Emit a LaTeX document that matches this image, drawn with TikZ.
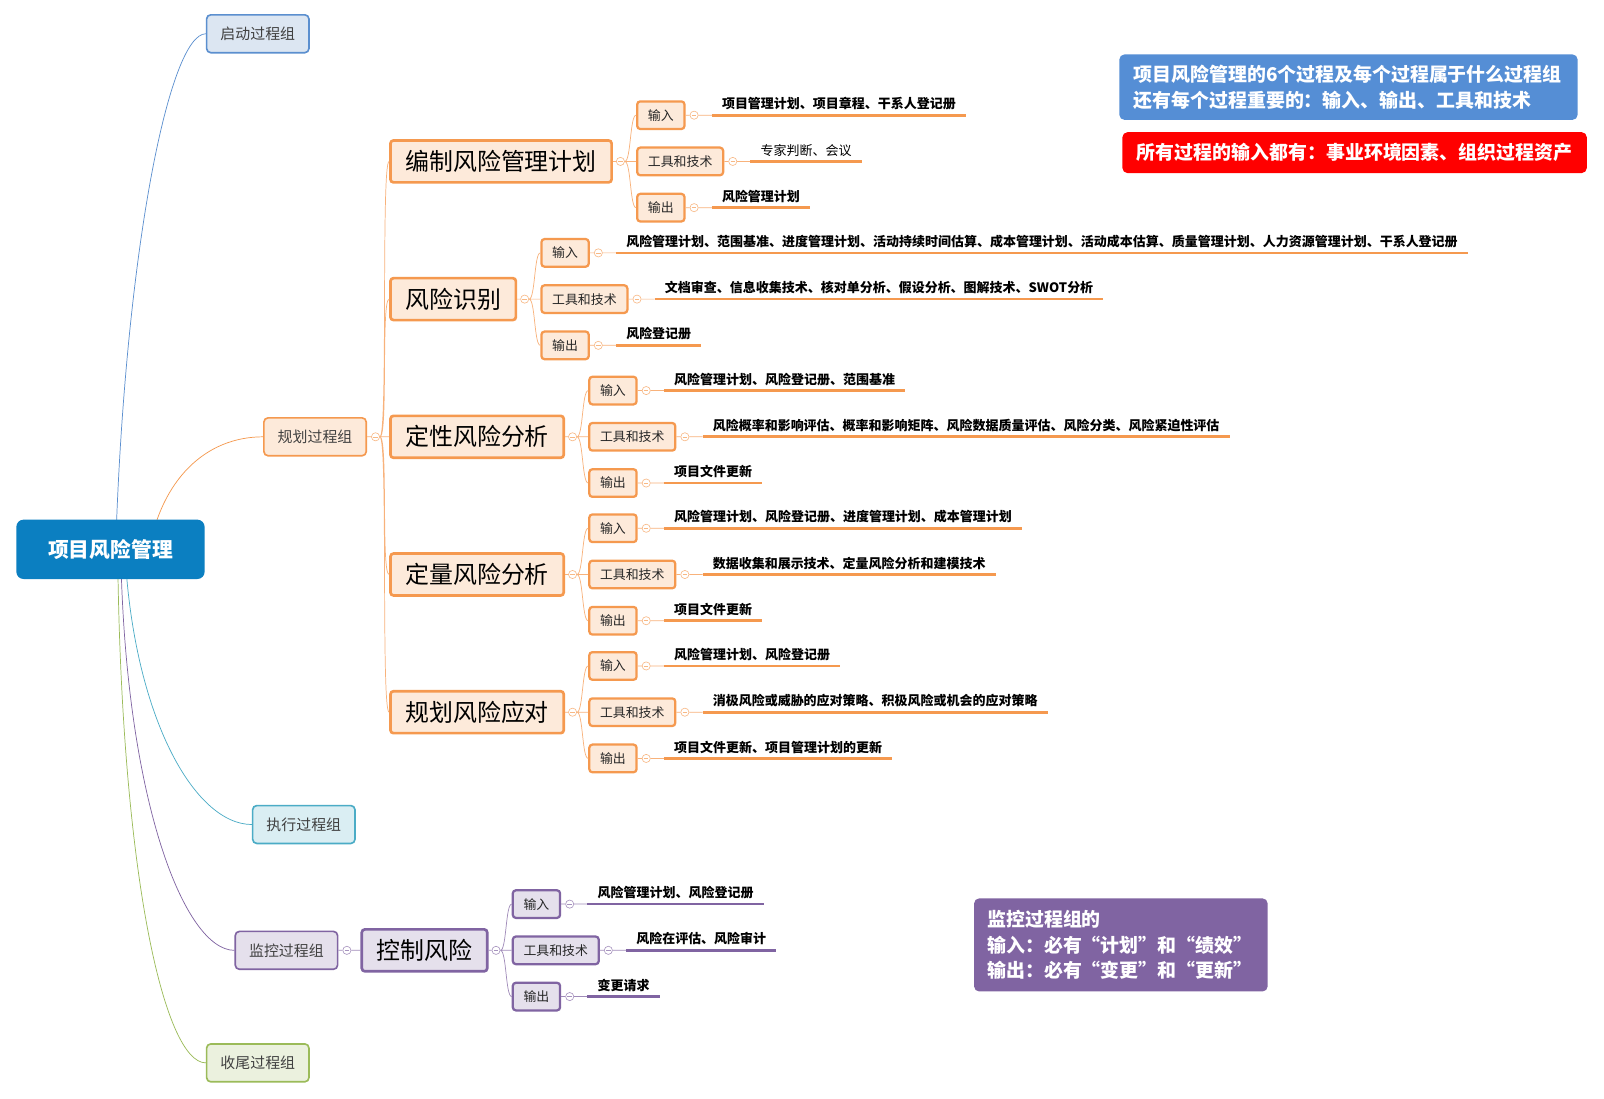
\documentclass[tikz,border=0pt]{standalone}
\usepackage{fontspec}
\setmainfont{Noto Sans CJK SC}
\usepackage{tikz}
\usetikzlibrary{positioning, backgrounds}
\definecolor{rootBlue}{HTML}{0B7FC1}
\definecolor{initLine}{HTML}{5B8FCF}
\definecolor{initFill}{HTML}{DCE6F2}
\definecolor{planLine}{HTML}{F5994F}
\definecolor{planFill}{HTML}{FDEADA}
\definecolor{execLine}{HTML}{4BACC6}
\definecolor{execFill}{HTML}{DAEEF3}
\definecolor{monLine}{HTML}{8064A2}
\definecolor{monFill}{HTML}{E5E0EC}
\definecolor{closeLine}{HTML}{9BBB59}
\definecolor{closeFill}{HTML}{EBF1DE}
\definecolor{noteBlue}{HTML}{558ED5}
\definecolor{noteRed}{HTML}{FF0000}

\begin{document}
\begin{tikzpicture}[
    x=1pt, y=-1pt,
    root/.style={fill=rootBlue, rounded corners=7pt, minimum width=184pt,
                 minimum height=58pt, text=white,
                 font=\bfseries\fontsize{20.3}{24}\selectfont},
    grp/.style={draw, rounded corners=4pt, line width=1.6pt, minimum width=100pt,
                minimum height=37pt, text=black!75,
                font=\fontsize{14.6}{17}\selectfont},
    proc/.style={draw=planLine, fill=planFill, rounded corners=3pt,
                 line width=2.6pt, minimum height=41pt, inner xsep=14.5pt,
                 font=\fontsize{23.4}{27}\selectfont},
    sub/.style={draw=planLine, fill=planFill, rounded corners=3pt,
                line width=2.2pt, minimum height=27pt, inner xsep=10.5pt,
                text=black!85, font=\fontsize{12.6}{15}\selectfont},
    knob/.style={circle, draw=#1!70, fill=white, minimum size=8pt,
                 inner sep=0pt, line width=0.6pt,
                 path picture={\draw[#1!70, line width=0.6pt]
                   ([xshift=1.8pt]path picture bounding box.west) --
                   ([xshift=-1.8pt]path picture bounding box.east);}},
    leaf/.style={inner xsep=10pt, inner ysep=5pt, outer sep=0pt,
                 font=\bfseries\fontsize{12.7}{15}\selectfont},
    twig/.style={draw=#1!75, line width=0.7pt},
    leafline/.style={draw=#1, line width=2.6pt},
    branch/.style={draw=#1, line width=0.7pt},
    note/.style={rounded corners=5pt, text=white, inner xsep=14pt,
                 font=\bfseries\fontsize{18.5}{25}\selectfont},
]
\useasboundingbox (0,0) rectangle (1568,1074);

% Root and process groups
\node[root] (risk) at (108,537) {项目风险管理};
\node[grp, draw=initLine, fill=initFill] (init) at (252,33) {启动过程组};
\node[grp, draw=planLine, fill=planFill] (plan) at (308,427) {规划过程组};
\node[grp, draw=execLine, fill=execFill] (exec) at (297,806) {执行过程组};
\node[grp, draw=monLine, fill=monFill] (mon) at (280,929) {监控过程组};
\node[grp, draw=closeLine, fill=closeFill] (close) at (252,1039) {收尾过程组};

\begin{scope}[on background layer]
\fill[white] (0,0) rectangle (1568,1074);
\draw[branch=initLine] ([xshift=5pt]risk.center) .. controls (122,250) and (165,33) .. (init.west);
\draw[branch=planLine] ([xshift=38pt]risk.center) .. controls (158,470) and (200,427) .. (plan.west);
\draw[branch=execLine] ([xshift=14pt]risk.center) .. controls (130,700) and (190,806) .. (exec.west);
\draw[branch=monLine] ([xshift=10pt]risk.center) .. controls (122,780) and (180,929) .. (mon.west);
\draw[branch=closeLine] ([xshift=7pt]risk.center) .. controls (118,850) and (160,1039) .. (close.west);
\end{scope}

% Planning processes
\node[knob=planLine, right=4pt of plan] (planc) {};
\node[proc, right=9pt of planc] (qual) {定性风险分析};
\node[proc, above=91pt of qual.north west, anchor=south west] (ident) {风险识别};
\node[proc, above=91pt of ident.north west, anchor=south west] (rmp) {编制风险管理计划};
\node[proc, below=91pt of qual.south west, anchor=north west] (quant) {定量风险分析};
\node[proc, below=91pt of quant.south west, anchor=north west] (resp) {规划风险应对};
\draw[twig=planLine] (plan) -- (planc) -- (qual)
    (planc.east) .. controls +(8,0) and +(-8,0) .. (ident.west)
    (planc.east) .. controls +(8,0) and +(-8,0) .. (rmp.west)
    (planc.east) .. controls +(8,0) and +(-8,0) .. (quant.west)
    (planc.east) .. controls +(8,0) and +(-8,0) .. (resp.west);

% Plan risk management
\node[knob=planLine, right=3pt of rmp] (rmpc) {};
\node[sub, right=11pt of rmpc] (rmpt) {工具和技术};
\node[sub, above=16pt of rmpt.north west, anchor=south west] (rmpi) {输入};
\node[sub, below=16pt of rmpt.south west, anchor=north west] (rmpo) {输出};
\node[knob=planLine, right=4pt of rmpi] (rmpic) {};
\node[knob=planLine, right=4pt of rmpt] (rmptc) {};
\node[knob=planLine, right=4pt of rmpo] (rmpoc) {};
\node[leaf, right=13pt of rmpic, anchor=south west] (rmpil) {项目管理计划、项目章程、干系人登记册};
\node[leaf, font=\fontsize{12.7}{15}\selectfont, right=13pt of rmptc, anchor=south west] (rmptl) {专家判断、会议};
\node[leaf, right=13pt of rmpoc, anchor=south west] (rmpol) {风险管理计划};
\draw[twig=planLine] (rmp) -- (rmpc) -- (rmpt) -- (rmptc) -- (rmptl.south west)
    (rmpi) -- (rmpic) -- (rmpil.south west) (rmpo) -- (rmpoc) -- (rmpol.south west)
    (rmpc.east) .. controls +(6,0) and +(-6,0) .. (rmpi.west)
    (rmpc.east) .. controls +(6,0) and +(-6,0) .. (rmpo.west);
\draw[leafline=planLine] (rmpil.south west) -- (rmpil.south east)
    (rmptl.south west) -- (rmptl.south east) (rmpol.south west) -- (rmpol.south east);

% Identify risks
\node[knob=planLine, right=3pt of ident] (identc) {};
\node[sub, right=11pt of identc] (identt) {工具和技术};
\node[sub, above=16pt of identt.north west, anchor=south west] (identi) {输入};
\node[sub, below=16pt of identt.south west, anchor=north west] (idento) {输出};
\node[knob=planLine, right=4pt of identi] (identic) {};
\node[knob=planLine, right=4pt of identt] (identtc) {};
\node[knob=planLine, right=4pt of idento] (identoc) {};
\node[leaf, right=13pt of identic, anchor=south west] (identil) {风险管理计划、范围基准、进度管理计划、活动持续时间估算、成本管理计划、活动成本估算、质量管理计划、人力资源管理计划、干系人登记册};
\node[leaf, right=13pt of identtc, anchor=south west] (identtl) {文档审查、信息收集技术、核对单分析、假设分析、图解技术、SWOT分析};
\node[leaf, right=13pt of identoc, anchor=south west] (identol) {风险登记册};
\draw[twig=planLine] (ident) -- (identc) -- (identt) -- (identtc) -- (identtl.south west)
    (identi) -- (identic) -- (identil.south west) (idento) -- (identoc) -- (identol.south west)
    (identc.east) .. controls +(6,0) and +(-6,0) .. (identi.west)
    (identc.east) .. controls +(6,0) and +(-6,0) .. (idento.west);
\draw[leafline=planLine] (identil.south west) -- (identil.south east)
    (identtl.south west) -- (identtl.south east) (identol.south west) -- (identol.south east);

% Qualitative analysis
\node[knob=planLine, right=3pt of qual] (qualc) {};
\node[sub, right=11pt of qualc] (qualt) {工具和技术};
\node[sub, above=16pt of qualt.north west, anchor=south west] (quali) {输入};
\node[sub, below=16pt of qualt.south west, anchor=north west] (qualo) {输出};
\node[knob=planLine, right=4pt of quali] (qualic) {};
\node[knob=planLine, right=4pt of qualt] (qualtc) {};
\node[knob=planLine, right=4pt of qualo] (qualoc) {};
\node[leaf, right=13pt of qualic, anchor=south west] (qualil) {风险管理计划、风险登记册、范围基准};
\node[leaf, right=13pt of qualtc, anchor=south west] (qualtl) {风险概率和影响评估、概率和影响矩阵、风险数据质量评估、风险分类、风险紧迫性评估};
\node[leaf, right=13pt of qualoc, anchor=south west] (qualol) {项目文件更新};
\draw[twig=planLine] (qual) -- (qualc) -- (qualt) -- (qualtc) -- (qualtl.south west)
    (quali) -- (qualic) -- (qualil.south west) (qualo) -- (qualoc) -- (qualol.south west)
    (qualc.east) .. controls +(6,0) and +(-6,0) .. (quali.west)
    (qualc.east) .. controls +(6,0) and +(-6,0) .. (qualo.west);
\draw[leafline=planLine] (qualil.south west) -- (qualil.south east)
    (qualtl.south west) -- (qualtl.south east) (qualol.south west) -- (qualol.south east);

% Quantitative analysis
\node[knob=planLine, right=3pt of quant] (quantc) {};
\node[sub, right=11pt of quantc] (quantt) {工具和技术};
\node[sub, above=16pt of quantt.north west, anchor=south west] (quanti) {输入};
\node[sub, below=16pt of quantt.south west, anchor=north west] (quanto) {输出};
\node[knob=planLine, right=4pt of quanti] (quantic) {};
\node[knob=planLine, right=4pt of quantt] (quanttc) {};
\node[knob=planLine, right=4pt of quanto] (quantoc) {};
\node[leaf, right=13pt of quantic, anchor=south west] (quantil) {风险管理计划、风险登记册、进度管理计划、成本管理计划};
\node[leaf, right=13pt of quanttc, anchor=south west] (quanttl) {数据收集和展示技术、定量风险分析和建模技术};
\node[leaf, right=13pt of quantoc, anchor=south west] (quantol) {项目文件更新};
\draw[twig=planLine] (quant) -- (quantc) -- (quantt) -- (quanttc) -- (quanttl.south west)
    (quanti) -- (quantic) -- (quantil.south west) (quanto) -- (quantoc) -- (quantol.south west)
    (quantc.east) .. controls +(6,0) and +(-6,0) .. (quanti.west)
    (quantc.east) .. controls +(6,0) and +(-6,0) .. (quanto.west);
\draw[leafline=planLine] (quantil.south west) -- (quantil.south east)
    (quanttl.south west) -- (quanttl.south east) (quantol.south west) -- (quantol.south east);

% Risk responses
\node[knob=planLine, right=3pt of resp] (respc) {};
\node[sub, right=11pt of respc] (respt) {工具和技术};
\node[sub, above=16pt of respt.north west, anchor=south west] (respi) {输入};
\node[sub, below=16pt of respt.south west, anchor=north west] (respo) {输出};
\node[knob=planLine, right=4pt of respi] (respic) {};
\node[knob=planLine, right=4pt of respt] (resptc) {};
\node[knob=planLine, right=4pt of respo] (respoc) {};
\node[leaf, right=13pt of respic, anchor=south west] (respil) {风险管理计划、风险登记册};
\node[leaf, right=13pt of resptc, anchor=south west] (resptl) {消极风险或威胁的应对策略、积极风险或机会的应对策略};
\node[leaf, right=13pt of respoc, anchor=south west] (respol) {项目文件更新、项目管理计划的更新};
\draw[twig=planLine] (resp) -- (respc) -- (respt) -- (resptc) -- (resptl.south west)
    (respi) -- (respic) -- (respil.south west) (respo) -- (respoc) -- (respol.south west)
    (respc.east) .. controls +(6,0) and +(-6,0) .. (respi.west)
    (respc.east) .. controls +(6,0) and +(-6,0) .. (respo.west);
\draw[leafline=planLine] (respil.south west) -- (respil.south east)
    (resptl.south west) -- (resptl.south east) (respol.south west) -- (respol.south east);

% Monitoring
\node[knob=monLine, right=4pt of mon] (monc) {};
\node[proc, draw=monLine, fill=monFill, right=9pt of monc] (ctrl) {控制风险};
\node[knob=monLine, right=3pt of ctrl] (ctrlc) {};
\node[sub, draw=monLine, fill=monFill, right=11pt of ctrlc] (ctrlt) {工具和技术};
\node[sub, draw=monLine, fill=monFill, above=16pt of ctrlt.north west, anchor=south west] (ctrli) {输入};
\node[sub, draw=monLine, fill=monFill, below=16pt of ctrlt.south west, anchor=north west] (ctrlo) {输出};
\node[knob=monLine, right=4pt of ctrli] (ctrlic) {};
\node[knob=monLine, right=4pt of ctrlt] (ctrltc) {};
\node[knob=monLine, right=4pt of ctrlo] (ctrloc) {};
\node[leaf, right=13pt of ctrlic, anchor=south west] (ctrlil) {风险管理计划、风险登记册};
\node[leaf, right=13pt of ctrltc, anchor=south west] (ctrltl) {风险在评估、风险审计};
\node[leaf, right=13pt of ctrloc, anchor=south west] (ctrlol) {变更请求};
\draw[twig=monLine] (mon) -- (monc) -- (ctrl) -- (ctrlc) -- (ctrlt) -- (ctrltc) -- (ctrltl.south west)
    (ctrli) -- (ctrlic) -- (ctrlil.south west) (ctrlo) -- (ctrloc) -- (ctrlol.south west)
    (ctrlc.east) .. controls +(6,0) and +(-6,0) .. (ctrli.west)
    (ctrlc.east) .. controls +(6,0) and +(-6,0) .. (ctrlo.west);
\draw[leafline=monLine] (ctrlil.south west) -- (ctrlil.south east)
    (ctrltl.south west) -- (ctrltl.south east) (ctrlol.south west) -- (ctrlol.south east);

% Notes
\node[note, fill=noteBlue, anchor=north west, text width=420pt, minimum height=64pt,
      align=left] (goal) at (1094,53)
      {项目风险管理的6个过程及每个过程属于什么过程组\\还有每个过程重要的：输入、输出、工具和技术};
\node[note, fill=noteRed, anchor=north west, minimum width=454pt, minimum height=40pt]
      (allin) at (1097,129) {所有过程的输入都有：事业环境因素、组织过程资产};
\node[note, fill=monLine, anchor=north west, inner xsep=13pt, text width=261pt,
      minimum height=91pt, align=left] (monnote) at (952,878)
      {监控过程组的\\输入：必有“计划”和“绩效”\\输出：必有“变更”和“更新”};
\end{tikzpicture}
\end{document}
